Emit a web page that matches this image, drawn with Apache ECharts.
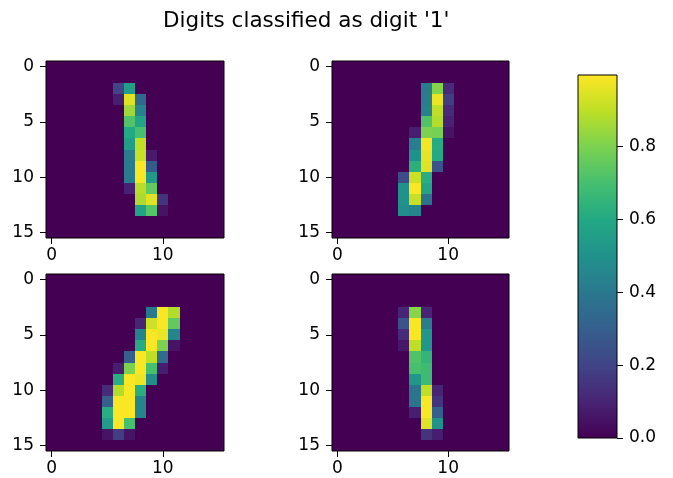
<!DOCTYPE html>
<html>
<head>
<meta charset="utf-8">
<title>Digits classified as digit '1'</title>
<script src="https://cdn.jsdelivr.net/npm/echarts@6/dist/echarts.min.js"></script>
<style>
  html, body { margin: 0; padding: 0; background: #fff; }
  #chart { width: 673px; height: 478px; }
</style>
</head>
<body>
<div id="chart"></div>
<script>
// 16x16 pixel grid indices (columns and rows)
const pixelIndex = [0, 1, 2, 3, 4, 5, 6, 7, 8, 9, 10, 11, 12, 13, 14, 15];

// Pixel intensities of the four digit images, one row per array
const digitA = [
  [0, 0, 0, 0, 0, 0, 0, 0, 0, 0, 0, 0, 0, 0, 0, 0],
  [0, 0, 0, 0, 0, 0, 0, 0, 0, 0, 0, 0, 0, 0, 0, 0],
  [0, 0, 0, 0, 0, 0, 0.2, 0.55, 0, 0, 0, 0, 0, 0, 0, 0],
  [0, 0, 0, 0, 0, 0, 0.08, 0.95, 0.34, 0, 0, 0, 0, 0, 0, 0],
  [0, 0, 0, 0, 0, 0, 0, 0.85, 0.44, 0, 0, 0, 0, 0, 0, 0],
  [0, 0, 0, 0, 0, 0, 0, 0.72, 0.57, 0, 0, 0, 0, 0, 0, 0],
  [0, 0, 0, 0, 0, 0, 0, 0.6, 0.7, 0, 0, 0, 0, 0, 0, 0],
  [0, 0, 0, 0, 0, 0, 0, 0.55, 0.9, 0, 0, 0, 0, 0, 0, 0],
  [0, 0, 0, 0, 0, 0, 0, 0.42, 0.91, 0.07, 0, 0, 0, 0, 0, 0],
  [0, 0, 0, 0, 0, 0, 0, 0.41, 0.99, 0.28, 0, 0, 0, 0, 0, 0],
  [0, 0, 0, 0, 0, 0, 0, 0.41, 0.99, 0.53, 0, 0, 0, 0, 0, 0],
  [0, 0, 0, 0, 0, 0, 0, 0.09, 0.89, 0.75, 0, 0, 0, 0, 0, 0],
  [0, 0, 0, 0, 0, 0, 0, 0, 0.87, 0.95, 0.15, 0, 0, 0, 0, 0],
  [0, 0, 0, 0, 0, 0, 0, 0, 0.57, 0.73, 0.05, 0, 0, 0, 0, 0],
  [0, 0, 0, 0, 0, 0, 0, 0, 0, 0, 0, 0, 0, 0, 0, 0],
  [0, 0, 0, 0, 0, 0, 0, 0, 0, 0, 0, 0, 0, 0, 0, 0]
];
const digitB = [
  [0, 0, 0, 0, 0, 0, 0, 0, 0, 0, 0, 0, 0, 0, 0, 0],
  [0, 0, 0, 0, 0, 0, 0, 0, 0, 0, 0, 0, 0, 0, 0, 0],
  [0, 0, 0, 0, 0, 0, 0, 0, 0.41, 0.81, 0.12, 0, 0, 0, 0, 0],
  [0, 0, 0, 0, 0, 0, 0, 0, 0.42, 0.97, 0.18, 0, 0, 0, 0, 0],
  [0, 0, 0, 0, 0, 0, 0, 0, 0.44, 0.9, 0.12, 0, 0, 0, 0, 0],
  [0, 0, 0, 0, 0, 0, 0, 0, 0.72, 0.88, 0.09, 0, 0, 0, 0, 0],
  [0, 0, 0, 0, 0, 0, 0, 0.08, 0.8, 0.79, 0.05, 0, 0, 0, 0, 0],
  [0, 0, 0, 0, 0, 0, 0, 0.42, 0.98, 0.61, 0, 0, 0, 0, 0, 0],
  [0, 0, 0, 0, 0, 0, 0, 0.5, 0.96, 0.6, 0, 0, 0, 0, 0, 0],
  [0, 0, 0, 0, 0, 0, 0, 0.63, 0.95, 0.25, 0, 0, 0, 0, 0, 0],
  [0, 0, 0, 0, 0, 0, 0.23, 0.92, 0.62, 0, 0, 0, 0, 0, 0, 0],
  [0, 0, 0, 0, 0, 0, 0.5, 0.99, 0.58, 0, 0, 0, 0, 0, 0, 0],
  [0, 0, 0, 0, 0, 0, 0.5, 0.91, 0.38, 0, 0, 0, 0, 0, 0, 0],
  [0, 0, 0, 0, 0, 0, 0.48, 0.45, 0, 0, 0, 0, 0, 0, 0, 0],
  [0, 0, 0, 0, 0, 0, 0, 0, 0, 0, 0, 0, 0, 0, 0, 0],
  [0, 0, 0, 0, 0, 0, 0, 0, 0, 0, 0, 0, 0, 0, 0, 0]
];
const digitC = [
  [0, 0, 0, 0, 0, 0, 0, 0, 0, 0, 0, 0, 0, 0, 0, 0],
  [0, 0, 0, 0, 0, 0, 0, 0, 0, 0, 0, 0, 0, 0, 0, 0],
  [0, 0, 0, 0, 0, 0, 0, 0, 0, 0, 0, 0, 0, 0, 0, 0],
  [0, 0, 0, 0, 0, 0, 0, 0, 0, 0.4, 0.99, 0.88, 0, 0, 0, 0],
  [0, 0, 0, 0, 0, 0, 0, 0, 0.1, 0.92, 0.99, 0.75, 0, 0, 0, 0],
  [0, 0, 0, 0, 0, 0, 0, 0, 0.45, 0.99, 0.97, 0.45, 0, 0, 0, 0],
  [0, 0, 0, 0, 0, 0, 0, 0, 0.61, 0.99, 0.8, 0.05, 0, 0, 0, 0],
  [0, 0, 0, 0, 0, 0, 0, 0.3, 0.99, 0.9, 0.35, 0, 0, 0, 0, 0],
  [0, 0, 0, 0, 0, 0, 0.08, 0.8, 0.99, 0.7, 0.08, 0, 0, 0, 0, 0],
  [0, 0, 0, 0, 0, 0, 0.62, 0.99, 0.97, 0.48, 0, 0, 0, 0, 0, 0],
  [0, 0, 0, 0, 0, 0.12, 0.88, 0.99, 0.62, 0, 0, 0, 0, 0, 0, 0],
  [0, 0, 0, 0, 0, 0.3, 0.99, 0.99, 0.45, 0, 0, 0, 0, 0, 0, 0],
  [0, 0, 0, 0, 0, 0.62, 0.99, 0.99, 0.45, 0, 0, 0, 0, 0, 0, 0],
  [0, 0, 0, 0, 0, 0.55, 0.99, 0.7, 0, 0, 0, 0, 0, 0, 0, 0],
  [0, 0, 0, 0, 0, 0.05, 0.18, 0.05, 0, 0, 0, 0, 0, 0, 0, 0],
  [0, 0, 0, 0, 0, 0, 0, 0, 0, 0, 0, 0, 0, 0, 0, 0]
];
const digitD = [
  [0, 0, 0, 0, 0, 0, 0, 0, 0, 0, 0, 0, 0, 0, 0, 0],
  [0, 0, 0, 0, 0, 0, 0, 0, 0, 0, 0, 0, 0, 0, 0, 0],
  [0, 0, 0, 0, 0, 0, 0, 0, 0, 0, 0, 0, 0, 0, 0, 0],
  [0, 0, 0, 0, 0, 0, 0.1, 0.82, 0.1, 0, 0, 0, 0, 0, 0, 0],
  [0, 0, 0, 0, 0, 0, 0.25, 0.99, 0.42, 0, 0, 0, 0, 0, 0, 0],
  [0, 0, 0, 0, 0, 0, 0.12, 0.99, 0.52, 0, 0, 0, 0, 0, 0, 0],
  [0, 0, 0, 0, 0, 0, 0.06, 0.9, 0.52, 0, 0, 0, 0, 0, 0, 0],
  [0, 0, 0, 0, 0, 0, 0, 0.72, 0.65, 0, 0, 0, 0, 0, 0, 0],
  [0, 0, 0, 0, 0, 0, 0, 0.7, 0.68, 0, 0, 0, 0, 0, 0, 0],
  [0, 0, 0, 0, 0, 0, 0, 0.52, 0.68, 0, 0, 0, 0, 0, 0, 0],
  [0, 0, 0, 0, 0, 0, 0, 0.38, 0.9, 0.1, 0, 0, 0, 0, 0, 0],
  [0, 0, 0, 0, 0, 0, 0, 0.38, 0.99, 0.15, 0, 0, 0, 0, 0, 0],
  [0, 0, 0, 0, 0, 0, 0, 0.08, 0.99, 0.3, 0, 0, 0, 0, 0, 0],
  [0, 0, 0, 0, 0, 0, 0, 0, 0.95, 0.5, 0, 0, 0, 0, 0, 0],
  [0, 0, 0, 0, 0, 0, 0, 0, 0.15, 0.08, 0, 0, 0, 0, 0, 0],
  [0, 0, 0, 0, 0, 0, 0, 0, 0, 0, 0, 0, 0, 0, 0, 0]
];

// Colour scale range and colorbar tick values
const colorMin = 0;
const colorMax = 0.996;
const colorbarTicks = [0, 0.2, 0.4, 0.6, 0.8];
const yTickEvery = 5;
const xTickEvery = 10;

// Viridis colour stops
const viridis = [
  '#440154', '#482475', '#414487', '#355f8d', '#2a788e',
  '#21918c', '#22a884', '#44bf70', '#7ad151', '#bddf26', '#fde725'
];

const FONT = 'DejaVu Sans';
const TICK_FONT = 17;
const digits = [digitA, digitB, digitC, digitD];

// Panel rectangles in pixels
const panels = [
  { left: 46, top: 61, width: 178, height: 177 },
  { left: 332, top: 61, width: 177, height: 177 },
  { left: 46, top: 274, width: 178, height: 177 },
  { left: 332, top: 274, width: 177, height: 177 }
];

function toCells(img) {
  const out = [];
  img.forEach((row, r) => row.forEach((v, c) => out.push([c, r, v])));
  return out;
}

const tickLine = { show: true, length: 6, lineStyle: { color: '#000', width: 1 } };

const grids = panels.map(p => ({
  left: p.left, top: p.top, width: p.width, height: p.height,
  show: true, z: 10, backgroundColor: 'transparent',
  borderColor: '#000', borderWidth: 1
}));
grids.push({
  left: 578, top: 75, width: 39, height: 363,
  show: true, z: 10, backgroundColor: 'transparent',
  borderColor: '#000', borderWidth: 1
});

const xAxes = panels.map((p, i) => ({
  type: 'category', gridIndex: i, data: pixelIndex, position: 'bottom', z: 10,
  axisLine: { show: false, onZero: false },
  axisTick: Object.assign({ alignWithLabel: true, interval: idx => idx % xTickEvery === 0 }, tickLine),
  axisLabel: {
    interval: idx => idx % xTickEvery === 0, margin: 9,
    color: '#000', fontFamily: FONT, fontSize: TICK_FONT
  },
  splitLine: { show: false }
}));
xAxes.push({ type: 'value', gridIndex: 4, min: 0, max: 1, show: false });

const yAxes = panels.map((p, i) => ({
  type: 'category', gridIndex: i, data: pixelIndex, inverse: true, position: 'left', z: 10,
  axisLine: { show: false, onZero: false },
  axisTick: Object.assign({ alignWithLabel: true, interval: idx => idx % yTickEvery === 0 }, tickLine),
  axisLabel: {
    interval: idx => idx % yTickEvery === 0, margin: 12,
    color: '#000', fontFamily: FONT, fontSize: TICK_FONT
  },
  splitLine: { show: false }
}));
yAxes.push({
  type: 'value', gridIndex: 4, min: colorMin, max: colorMax, position: 'right', z: 10,
  axisLine: { show: false, onZero: false },
  axisTick: Object.assign({ customValues: colorbarTicks }, tickLine),
  axisLabel: {
    customValues: colorbarTicks, margin: 12,
    formatter: v => v.toFixed(1),
    color: '#000', fontFamily: FONT, fontSize: TICK_FONT
  },
  splitLine: { show: false }
});

// Each image cell is a rectangle one band wide, coloured by the visual map.
// Edges are snapped to whole pixels so neighbouring cells meet without seams.
function renderCell(params, api) {
  const center = api.coord([api.value(0), api.value(1)]);
  const size = api.size([1, 1]);
  const x0 = Math.round(center[0] - size[0] / 2);
  const x1 = Math.round(center[0] + size[0] / 2);
  const y0 = Math.round(center[1] - size[1] / 2);
  const y1 = Math.round(center[1] + size[1] / 2);
  return {
    type: 'rect',
    shape: { x: x0, y: y0, width: x1 - x0, height: y1 - y0 },
    style: { fill: api.visual('color'), stroke: null, lineWidth: 0 }
  };
}

const series = digits.map((img, i) => ({
  type: 'custom', xAxisIndex: i, yAxisIndex: i,
  data: toCells(img),
  encode: { x: 0, y: 1 },
  renderItem: renderCell,
  silent: true
}));

// Colorbar: a gradient rectangle spanning the colour scale
series.push({
  type: 'custom', xAxisIndex: 4, yAxisIndex: 4,
  data: [[colorMin, colorMax]],
  silent: true,
  renderItem(params, api) {
    const p0 = api.coord([0, api.value(0)]);
    const p1 = api.coord([1, api.value(1)]);
    return {
      type: 'rect',
      shape: { x: p0[0], y: p1[1], width: p1[0] - p0[0], height: p0[1] - p1[1] },
      style: {
        fill: new echarts.graphic.LinearGradient(0, 1, 0, 0,
          viridis.map((c, k) => ({ offset: k / (viridis.length - 1), color: c })))
      }
    };
  }
});

const chart = echarts.init(document.getElementById('chart'), null, { renderer: 'canvas' });
chart.setOption({
  animation: false,
  backgroundColor: '#fff',
  title: {
    text: "Digits classified as digit '1'",
    left: 158, top: 5,
    textStyle: { fontFamily: FONT, fontSize: 21.5, fontWeight: 'normal', color: '#000' }
  },
  grid: grids,
  xAxis: xAxes,
  yAxis: yAxes,
  visualMap: {
    type: 'continuous', show: false, min: colorMin, max: colorMax,
    dimension: 2, seriesIndex: [0, 1, 2, 3],
    inRange: { color: viridis }
  },
  series: series
});
</script>
</body>
</html>
